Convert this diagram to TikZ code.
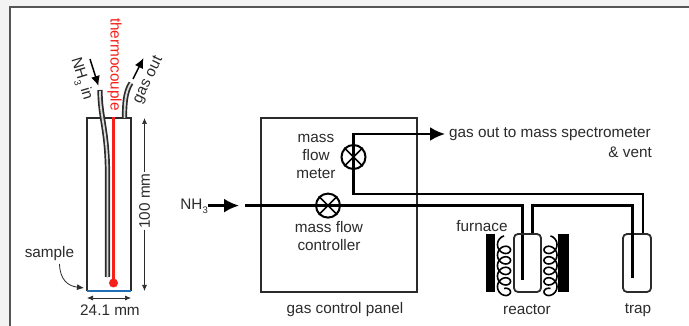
\documentclass[tikz,border=0pt]{standalone}
\usepackage{fontspec}
\setmainfont{Liberation Sans}
\usetikzlibrary{arrows.meta}
\definecolor{ink}{HTML}{2B2B2B}
\definecolor{tcred}{HTML}{F5201A}
\definecolor{sampleblue}{HTML}{1F6FB5}
\definecolor{framegray}{HTML}{555555}
\definecolor{pagegray}{HTML}{F3F3F3}
\newcommand{\subthree}{\raisebox{-.28em}{\fontsize{9.5}{10}\selectfont 3}}
\tikzset{
  lab/.style={inner sep=0pt,text=ink,font=\fontsize{15.3}{18}\selectfont,align=center},
  pipe/.style={draw=black,line width=2.4pt},
  vessel/.style={draw=ink,line width=1.8pt,rounded corners=4pt},
  valve/.style={circle,draw=black,line width=2pt,minimum size=24pt,inner sep=0pt},
  flow/.style={-{Latex[length=15pt,width=14pt]},line width=2.4pt,draw=black},
  smallflow/.style={-{Latex[length=10pt,width=9pt]},line width=1.5pt,draw=black},
  dim/.style={{Latex[length=6pt,width=5pt]}-{Latex[length=6pt,width=5pt]},draw=ink,line width=.7pt},
  coilline/.style={draw=black,line width=1.6pt,smooth,samples=160,domain=0:1800},
  heater/.style={fill=black,draw=none},
  tubeout/.style={draw=ink,line width=5.2pt},
  tubein/.style={draw=gray!30,line width=1.8pt},
}
\begin{document}
\begin{tikzpicture}[x=1pt,y=-1pt]
\useasboundingbox (0,0) rectangle (689,326);
\fill[pagegray] (0,0) rectangle (689,326);
\fill[white] (10,7) rectangle (689,326);
\draw[framegray,line width=2pt] (10,326) -- (10,7) -- (689,7);

% --- reactor cross-section
\coordinate (tubeTL) at (87,118);
\coordinate (tubeTR) at (131,118);
\coordinate (tubeBL) at (87,291);
\coordinate (tubeBR) at (131,291);
\draw[ink,line width=1.8pt] (tubeBL) -- (tubeTL) -- (tubeTR) -- (tubeBR);
\draw[sampleblue,line width=1.8pt] (tubeBL) -- (tubeBR);

\coordinate (inTop) at (100,90);
\coordinate (inBot) at (107.5,277);
\draw[tubeout] (inTop) .. controls (100,118) and (107.5,130) .. (107.5,175) -- (inBot);
\draw[tubein] (inTop) ++(0,1) .. controls (100,118) and (107.5,130) .. (107.5,175) -- ([yshift=-1pt]inBot);
\coordinate (outBot) at (124.5,118);
\coordinate (outTop) at (131,83);
\draw[tubeout] (outBot) .. controls (124.5,105) and (125,92) .. (outTop);
\draw[tubein] (outBot) .. controls (124.5,105) and (125,92) .. (outTop);

\coordinate (tcTop) at (113.5,117);
\node[circle,fill=tcred,minimum size=9pt,inner sep=0pt] (tcTip) at (113.5,283) {};
\draw[tcred,line width=3.8pt] (tcTop) -- (tcTip.center);

\coordinate (nhA) at (90,59);
\coordinate (nhB) at (98.5,86);
\draw[smallflow] (nhA) -- (nhB);
\coordinate (goA) at (133,79);
\coordinate (goB) at (143.5,58);
\draw[smallflow] (goA) -- (goB);

\node[lab,rotate=-73] (nh3in) at (81,79) {NH\subthree{} in};
\node[lab,rotate=-90,text=tcred] (thermo) at (114.5,64.5) {thermocouple};
\node[lab,rotate=64] (gasout) at (148.5,80) {gas out};

\coordinate (dimT) at (144.5,118);
\coordinate (dimB) at (144.5,291);
\draw[dim] (dimT) -- (dimB);
\node[lab,rotate=90,fill=white,inner sep=1pt] (hundred) at (144.5,201) {100 mm};

\node[lab] (sample) at (49.5,254) {sample};
\coordinate (sampleTip) at (84,288);
\draw[{Latex[length=7pt,width=6pt]}-,ink,line width=.8pt] (sampleTip) .. controls (68,286) and (60,280) .. (59.5,264);

\coordinate (wL) at (87,298);
\coordinate (wR) at (131,298);
\draw[dim] (wL) -- (wR);
\node[lab] (width) at (110,310) {24.1 mm};

% --- gas control panel
\node[draw=ink,line width=1.8pt,minimum width=156pt,minimum height=173.5pt,inner sep=0pt] (panel) at (339,205) {};
\node[lab] (panelLab) at (345,310) {gas control panel};

\node[valve] (mfc) at (328,205.6) {};
\node[valve] (mfm) at (353.5,157) {};
\draw[line width=1.6pt] (mfc.north west) -- (mfc.south east) (mfc.north east) -- (mfc.south west);
\draw[line width=1.6pt] (mfm.north west) -- (mfm.south east) (mfm.north east) -- (mfm.south west);
\node[lab] (mfmLab) at (316,156.5) {mass\\flow\\meter};
\node[lab] (mfcLab) at (329,236) {mass flow\\controller};

% --- NH3 feed
\node[lab,anchor=east] (nh3) at (208,206) {NH\subthree};
\coordinate (feedTip) at (239,205.6);
\draw[flow] (nh3.east |- feedTip) -- (feedTip);
\coordinate (feedStart) at (245,205.6);
\coordinate (rIn) at (522.6,205.6);
\coordinate (rInEnd) at (522.6,280);
\draw[pipe] (feedStart) -- (mfc.center) -- (rIn) -- (rInEnd);

% --- vessels and furnace
\node[vessel,minimum width=27pt,minimum height=58pt,inner sep=0pt] (reactor) at (527.5,263) {};
\node[vessel,minimum width=28pt,minimum height=58pt,inner sep=0pt] (trap) at (637,263) {};
\node[heater,minimum width=9pt,minimum height=58pt,inner sep=0pt] (heatL) at (490.5,263) {};
\node[heater,minimum width=11pt,minimum height=58pt,inner sep=0pt] (heatR) at (563.5,263) {};
\coordinate (coilLT) at (504,242);
\coordinate (coilRT) at (550.5,242);
\draw[coilline,shift={(coilLT)}] plot ({-6.5*sin(\x)},{\x/360*10.5-6*cos(\x)});
\draw[coilline,shift={(coilRT)}] plot ({6.5*sin(\x)},{\x/360*10.5-6*cos(\x)});

\coordinate (rOutUp) at (532.6,205.6);
\coordinate (tIn) at (632.6,205.6);
\coordinate (tInEnd) at (632.6,278);
\draw[pipe] (reactor.north -| rOutUp) -- (rOutUp) -- (tIn) -- (tInEnd);

\coordinate (mTop) at (353.5,134);
\coordinate (mBot) at (353.5,194);
\coordinate (tOut) at (643,194);
\coordinate (outTip) at (445,134);
\draw[pipe] (trap.north -| tOut) -- (tOut) -- (mBot) -- (mfm.center) -- (mTop);
\draw[flow] ([xshift=-1.2pt]mTop) -- (outTip);

\node[lab,anchor=west] (gasLab) at (449,134) {gas out to mass spectrometer};
\node[lab,anchor=east] (ventLab) at (652,152) {\& vent};
\node[lab] (furnace) at (482,226) {furnace};
\node[lab] (reactorLab) at (527,309.5) {reactor};
\node[lab] (trapLab) at (638,310) {trap};
\end{tikzpicture}
\end{document}
